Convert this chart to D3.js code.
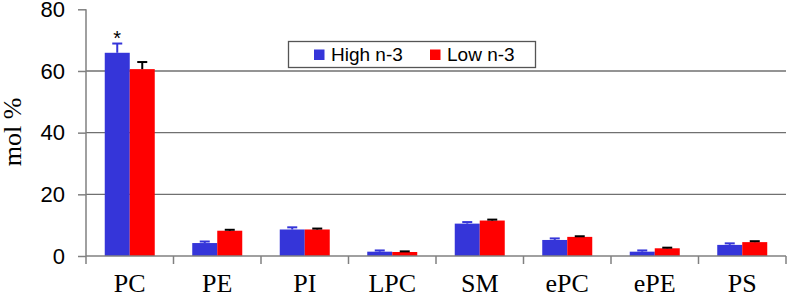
<!DOCTYPE html>
<html>
<head>
<meta charset="utf-8">
<script src="https://cdn.jsdelivr.net/npm/d3@7"></script>
<style>
body { margin: 0; background: #fff; }
</style>
</head>
<body>
<div id="chart"></div>
<script>
var categories = ["PC", "PE", "PI", "LPC", "SM", "ePC", "ePE", "PS"];
var seriesNames = ["High n-3", "Low n-3"];
var highValues = [65.9, 4.2, 8.6, 1.4, 10.5, 5.2, 1.4, 3.6];
var highErrors = [3.0, 0.5, 0.7, 0.4, 0.5, 0.5, 0.4, 0.5];
var lowValues = [60.6, 8.2, 8.6, 1.3, 11.5, 6.2, 2.5, 4.5];
var lowErrors = [2.3, 0.3, 0.3, 0.2, 0.3, 0.2, 0.2, 0.3];
var yTicks = [0, 20, 40, 60, 80];
var colors = ["#3535d9", "#ff0000"];

var w = 789;
var h = 296;
var padLeft = 86, padRight = 786, padTop = 9.3, padBottom = 256;

var svg = d3.select("#chart")
    .append("svg")
    .attr("width", w)
    .attr("height", h);

var xscale = d3.scaleBand()
    .domain(categories)
    .range([padLeft, padRight]);

var xinner = d3.scaleBand()
    .domain([0, 1])
    .range([0, xscale.bandwidth()])
    .paddingOuter(0.75)
    .paddingInner(0);

var yscale = d3.scaleLinear()
    .domain([0, 80])
    .range([padBottom, padTop]);

// gridlines
svg.selectAll("line.grid")
    .data([20, 40, 60])
    .enter()
    .append("line")
    .attr("class", "grid")
    .attr("x1", padLeft)
    .attr("x2", padRight)
    .attr("y1", function(d) { return yscale(d); })
    .attr("y2", function(d) { return yscale(d); })
    .attr("stroke", "#707070")
    .attr("stroke-width", 1.3);

// bars
var data = [];
categories.forEach(function(c, i) {
    data.push({cat: c, s: 0, v: highValues[i], e: highErrors[i]});
    data.push({cat: c, s: 1, v: lowValues[i], e: lowErrors[i]});
});

svg.selectAll("rect.bar")
    .data(data)
    .enter()
    .append("rect")
    .attr("class", "bar")
    .attr("x", function(d) { return xscale(d.cat) + xinner(d.s); })
    .attr("y", function(d) { return yscale(d.v); })
    .attr("width", xinner.bandwidth())
    .attr("height", function(d) { return yscale(0) - yscale(d.v); })
    .attr("fill", function(d) { return colors[d.s]; });

// error bars (upward only)
var err = svg.selectAll("g.err")
    .data(data)
    .enter()
    .append("g")
    .attr("class", "err")
    .attr("stroke", function(d) { return d.s === 0 ? "#3535d9" : "#000"; })
    .attr("stroke-width", 2);

err.append("line")
    .attr("x1", function(d) { return xscale(d.cat) + xinner(d.s) + xinner.bandwidth() / 2; })
    .attr("x2", function(d) { return xscale(d.cat) + xinner(d.s) + xinner.bandwidth() / 2; })
    .attr("y1", function(d) { return yscale(d.v); })
    .attr("y2", function(d) { return yscale(d.v + d.e); });

err.append("line")
    .attr("x1", function(d) { return xscale(d.cat) + xinner(d.s) + xinner.bandwidth() / 2 - 5; })
    .attr("x2", function(d) { return xscale(d.cat) + xinner(d.s) + xinner.bandwidth() / 2 + 5; })
    .attr("y1", function(d) { return yscale(d.v + d.e); })
    .attr("y2", function(d) { return yscale(d.v + d.e); });

// asterisk over PC high
svg.append("text")
    .attr("x", xscale("PC") + xinner(0) + xinner.bandwidth() / 2)
    .attr("y", yscale(highValues[0] + highErrors[0]) + 1)
    .attr("text-anchor", "middle")
    .attr("font-family", "Liberation Sans, Arial, sans-serif")
    .attr("font-size", "20px")
    .text("*");

// y axis
var yaxis = d3.axisLeft(yscale).tickValues(yTicks).tickSize(8).tickPadding(13);
var gy = svg.append("g")
    .attr("transform", "translate(" + padLeft + ",0)")
    .call(yaxis);
gy.select(".domain").attr("stroke", "#808080").attr("stroke-width", 1.5).attr("d", "M0," + padTop + "V" + padBottom);
gy.selectAll(".tick line").attr("stroke", "#808080").attr("stroke-width", 1.5);
gy.selectAll(".tick text")
    .attr("font-family", "Liberation Sans, Arial, sans-serif")
    .attr("font-size", "22px")
    .attr("fill", "#000");

// x axis
var xaxis = d3.axisBottom(xscale).tickSize(0).tickPadding(18);
var gx = svg.append("g")
    .attr("transform", "translate(0," + padBottom + ")")
    .call(xaxis);
gx.select(".domain").attr("stroke", "#808080").attr("stroke-width", 1.5).attr("d", "M" + padLeft + ",0H" + padRight);
gx.selectAll(".tick text")
    .attr("font-family", "Liberation Serif, Times New Roman, serif")
    .attr("font-size", "26px")
    .attr("fill", "#000");

// boundary ticks between categories
svg.selectAll("line.xtick")
    .data(categories)
    .enter()
    .append("line")
    .attr("class", "xtick")
    .attr("x1", function(d) { return xscale(d) + xscale.bandwidth(); })
    .attr("x2", function(d) { return xscale(d) + xscale.bandwidth(); })
    .attr("y1", padBottom)
    .attr("y2", padBottom + 8)
    .attr("stroke", "#808080")
    .attr("stroke-width", 1.5);

svg.append("line")
    .attr("x1", padLeft).attr("x2", padLeft)
    .attr("y1", padBottom).attr("y2", padBottom + 8)
    .attr("stroke", "#808080").attr("stroke-width", 1.5);

// y title
svg.append("text")
    .attr("transform", "translate(21,132) rotate(-90)")
    .attr("text-anchor", "middle")
    .attr("font-family", "Liberation Serif, Times New Roman, serif")
    .attr("font-size", "26px")
    .text("mol %");

// legend
var legend = svg.append("g");
legend.append("rect")
    .attr("x", 288.5).attr("y", 41.5)
    .attr("width", 247).attr("height", 26)
    .attr("fill", "#fff")
    .attr("stroke", "#555")
    .attr("stroke-width", 1.3);

var lx = [314, 430];
seriesNames.forEach(function(name, i) {
    legend.append("rect")
        .attr("x", lx[i]).attr("y", 49.5)
        .attr("width", 10.5).attr("height", 10.5)
        .attr("fill", colors[i]);
    legend.append("text")
        .attr("x", lx[i] + 17).attr("y", 60.5)
        .attr("font-family", "Liberation Sans, Arial, sans-serif")
        .attr("font-size", "19px")
        .text(name);
});
</script>
</body>
</html>
